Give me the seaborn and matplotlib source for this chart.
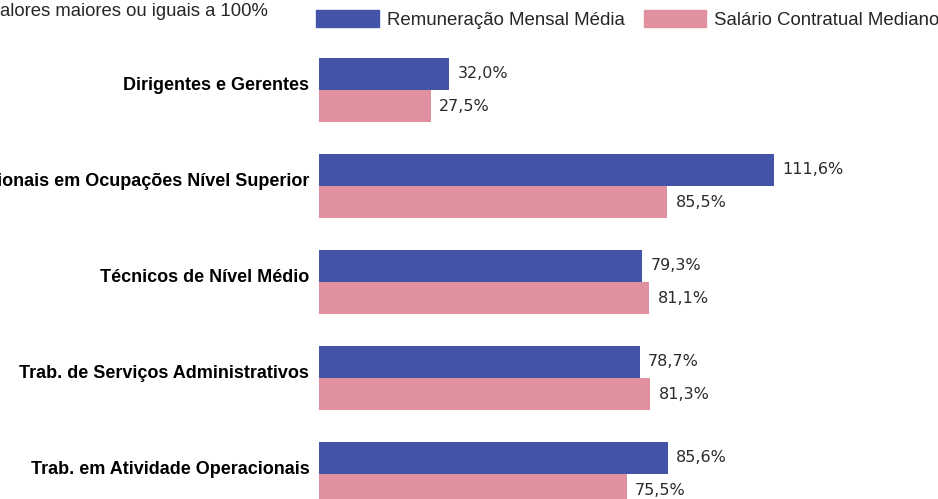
import matplotlib
matplotlib.use("Agg")
import matplotlib.pyplot as plt
import matplotlib.transforms as mtransforms
import seaborn as sns
import pandas as pd

# --- data ---
categorias = [
    "Dirigentes e Gerentes",
    "Profissionais em Ocupações Nível Superior",
    "Técnicos de Nível Médio",
    "Trab. de Serviços Administrativos",
    "Trab. em Atividade Operacionais",
]
remuneracao_media = [32.0, 111.6, 79.3, 78.7, 85.6]
salario_mediano = [27.5, 85.5, 81.1, 81.3, 75.5]
series = ["Remuneração Mensal Média", "Salário Contratual Mediano"]
cores = ["#4353A8", "#E0909E"]

df = pd.DataFrame({
    "Categoria": categorias * 2,
    "Valor": remuneracao_media + salario_mediano,
    "Série": [series[0]] * len(categorias) + [series[1]] * len(categorias),
})

sns.set_theme(style="white")
plt.rcParams["font.family"] = ["Liberation Sans", "DejaVu Sans"]

fig = plt.figure(figsize=(9.38, 4.99), dpi=100)
# axes deliberately runs past the figure edges, like the cropped original
ax = fig.add_axes([319 / 938, 1 - 522 / 499, 611 / 938, 480 / 499])

sns.barplot(data=df, y="Categoria", x="Valor", hue="Série", order=categorias,
            hue_order=series, palette=cores, orient="h", width=0.667,
            saturation=1, linewidth=0, ax=ax, legend=False)

ax.set_xlim(0, 150)
ax.set_ylim(4.5, -0.5)
ax.set_xlabel("")
ax.set_ylabel("")
ax.set_xticks([])
ax.tick_params(axis="y", length=0, pad=7)
shift = mtransforms.ScaledTranslation(0, 6 / 100, fig.dpi_scale_trans)
for lbl in ax.get_yticklabels():
    lbl.set_fontweight("bold")
    lbl.set_fontsize(13)
    lbl.set_color("black")
    lbl.set_transform(lbl.get_transform() + shift)
sns.despine(ax=ax, left=True, bottom=True)

# value labels (comma decimal)
for cont in ax.containers:
    labels = [f"{b.get_width():.1f}%".replace(".", ",") for b in cont]
    ax.bar_label(cont, labels=labels, padding=6, fontsize=11.5,
                 family="DejaVu Sans", color="#2a2a2a")

# legend across the top
handles = [plt.Rectangle((0, 0), 1, 1, color=c) for c in cores]
fig.legend(handles, series, loc="upper right",
           bbox_to_anchor=(1.0 + 10 / 938, 1.0 - 2 / 499),
           ncol=2, frameon=False, fontsize=13.4, handlelength=3.35,
           handleheight=1.0, columnspacing=1.0, handletextpad=0.45,
           borderaxespad=0.15, borderpad=0.3)

fig.text(0.0, 1 - 16 / 499, "alores maiores ou iguais a 100%", fontsize=13.3,
         ha="left", va="baseline")

fig.savefig("out.png", dpi=100)
